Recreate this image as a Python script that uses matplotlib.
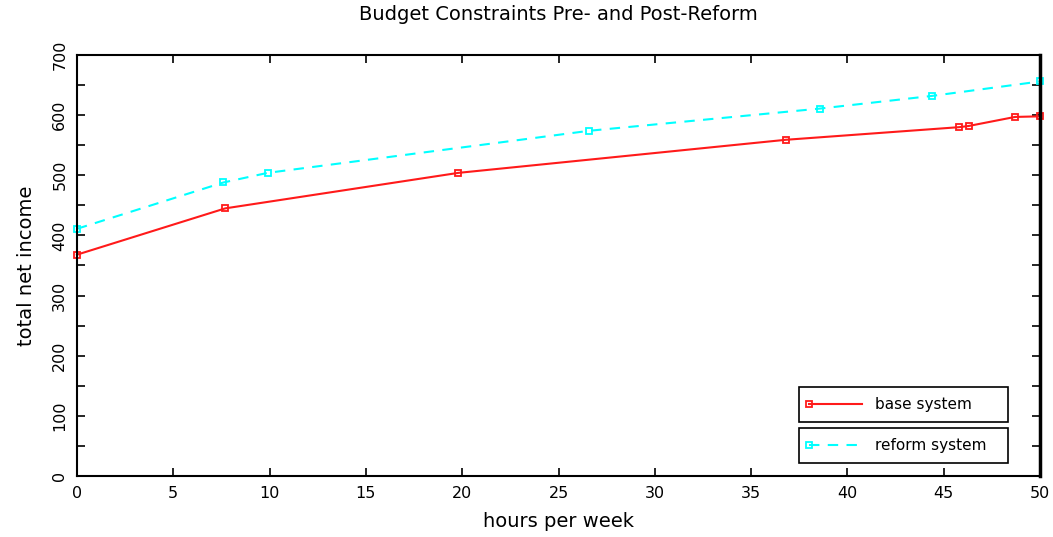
import matplotlib
matplotlib.use("Agg")
import matplotlib.pyplot as plt
from matplotlib.legend_handler import HandlerLine2D

# Datos
horas_base = [0, 7.7, 19.8, 36.8, 45.8, 46.3, 48.7, 50]
ingreso_base = [368, 445, 504, 559, 580, 582, 597, 598]

horas_reforma = [0, 7.6, 9.9, 26.6, 38.6, 44.4, 50]
ingreso_reforma = [411, 488, 504, 574, 611, 632, 656]

x_ticks = list(range(0, 51, 5))
y_ticks = list(range(0, 701, 100))
y_minor = list(range(50, 701, 100))


# marcador al inicio de la linea en la leyenda
class MarcadorIzq(HandlerLine2D):
    def create_artists(self, legend, orig_handle, xdescent, ydescent,
                       width, height, fontsize, trans):
        artistas = super().create_artists(legend, orig_handle, xdescent, ydescent,
                                          width, height, fontsize, trans)
        for a in artistas:
            a.set_markevery([0])
        return artistas


plt.rcParams['font.family'] = ['DejaVu Sans']

fig = plt.figure(figsize=(10.53, 5.37), dpi=100)
ax = fig.add_axes([0.0731, 0.1136, 0.9146, 0.784])

linea_base, = ax.plot(horas_base, ingreso_base, color='#ff1a1a', lw=1.5,
                      marker='s', ms=5, mfc='none', mew=1.3, clip_on=False)
linea_ref, = ax.plot(horas_reforma, ingreso_reforma, color='#00ffff', lw=1.5,
                     linestyle=(0, (5, 4)), marker='s', ms=5, mfc='none',
                     mew=1.3, clip_on=False)

ax.set_xlim(0, 50)
ax.set_ylim(0, 700)
ax.set_xticks(x_ticks)
ax.set_yticks(y_ticks)
ax.set_yticks(y_minor, minor=True)
ax.tick_params(which='both', direction='in', top=True, right=True,
               length=6, width=1.2, labelsize=11.5)
ax.tick_params(axis='x', pad=7)
ax.tick_params(axis='y', pad=7)
plt.setp(ax.get_yticklabels(), rotation=90, va='center')

for lado in ['left', 'bottom', 'top']:
    ax.spines[lado].set_linewidth(1.5)
ax.spines['right'].set_linewidth(2.5)

ax.set_title('Budget Constraints Pre- and Post-Reform', fontsize=14, pad=25)
ax.set_xlabel('hours per week', fontsize=14, labelpad=8)
ax.set_ylabel('total net income', fontsize=14, labelpad=12)

# dos cajas de leyenda separadas
opciones = dict(loc='upper left', mode='expand', fancybox=False, framealpha=1,
                edgecolor='black', fontsize=11, handlelength=3.5,
                borderpad=0.65, borderaxespad=0, handletextpad=0.85,
                numpoints=1)
leg1 = ax.legend([linea_base], ['base system'],
                 bbox_to_anchor=(0.7497, 0.0, 0.217, 0.2114),
                 handler_map={linea_base: MarcadorIzq()}, **opciones)
leg1.get_frame().set_linewidth(1.2)
ax.add_artist(leg1)
leg2 = ax.legend([linea_ref], ['reform system'],
                 bbox_to_anchor=(0.7497, 0.0, 0.217, 0.114),
                 handler_map={linea_ref: MarcadorIzq()}, **opciones)
leg2.get_frame().set_linewidth(1.2)

fig.savefig('out.png', dpi=100)
